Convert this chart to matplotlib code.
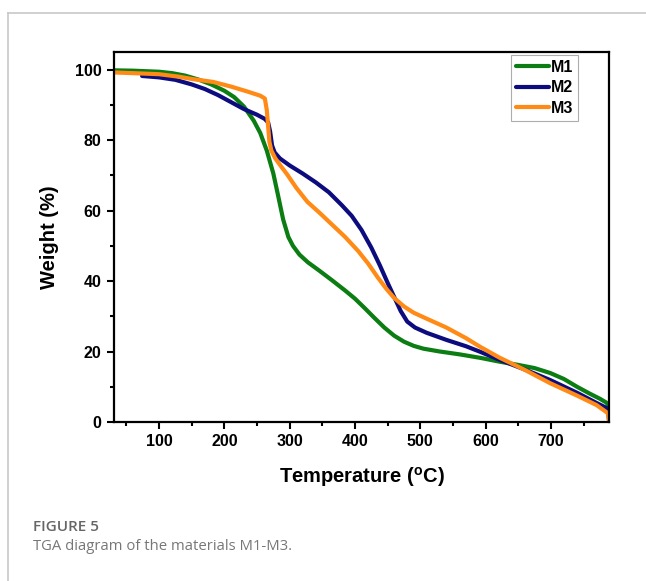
import numpy as np
import matplotlib.pyplot as plt
from matplotlib.ticker import MultipleLocator
from matplotlib.lines import Line2D

# TGA curves (temperature in C, weight in %)
t_m1 = [30, 60, 100, 120, 140, 160, 180, 200, 215, 230, 245, 255, 265, 275, 282,
        290, 298, 305, 315, 328, 345, 365, 385, 400, 415, 430, 445, 460, 475,
        490, 505, 530, 560, 592, 622, 650, 675, 699, 720, 740, 760, 775, 785,
        788, 789]
w_m1 = [99.8, 99.7, 99.4, 99.0, 98.3, 97.2, 95.8, 94.0, 92.2, 89.5, 85.5, 82.0,
        77.0, 70.5, 64.5, 57.5, 52.5, 50.0, 47.5, 45.3, 43.0, 40.2, 37.3, 35.0,
        32.3, 29.5, 26.8, 24.5, 22.8, 21.6, 20.8, 20.0, 19.2, 18.2, 17.1, 16.2,
        15.3, 13.9, 12.2, 10.0, 8.0, 6.6, 5.5, 4.8, 0.5]

t_m2 = [74, 100, 125, 150, 170, 190, 210, 230, 250, 262, 267, 270, 273, 277, 285,
        300, 320, 340, 360, 380, 395, 410, 425, 438, 450, 460, 470, 480, 492,
        510, 540, 570, 592, 622, 660, 699, 740, 770, 785, 788, 789]
w_m2 = [98.2, 97.8, 97.1, 95.8, 94.5, 92.8, 90.8, 88.8, 87.2, 86.0, 85.0, 82.5,
        78.5, 76.5, 74.8, 72.8, 70.5, 68.0, 65.2, 61.5, 58.5, 54.5, 49.5, 44.5,
        39.5, 35.5, 31.5, 28.5, 26.8, 25.3, 23.3, 21.5, 19.9, 17.6, 14.9, 11.9,
        8.3, 5.4, 4.0, 3.4, 0.5]

t_m3 = [30, 60, 100, 130, 152, 183, 210, 235, 255, 262, 265, 267, 269, 272, 278,
        287, 296, 310, 327, 345, 365, 385, 405, 420, 435, 448, 460, 475, 490,
        510, 540, 570, 592, 622, 660, 699, 740, 770, 785, 788, 789]
w_m3 = [99.2, 99.0, 98.7, 98.0, 97.3, 96.5, 95.2, 93.8, 92.6, 91.8, 88.5, 84.0,
        79.5, 77.0, 74.8, 72.5, 70.3, 66.5, 62.5, 59.5, 56.0, 52.5, 48.5, 45.0,
        41.0, 37.8, 35.2, 32.8, 31.0, 29.3, 26.8, 23.8, 21.3, 18.2, 14.8, 11.0,
        7.5, 4.8, 2.8, 2.3, 0.5]

names = ['M1', 'M2', 'M3']
colors = ['#0b7d12', '#0c0c7e', '#ff8a16']

plt.rcParams['font.family'] = ['Liberation Sans', 'DejaVu Sans']

fig = plt.figure(figsize=(6.46, 5.81), dpi=100)
ax = fig.add_axes([114/646, 1-422/581, (609-114)/646, (422-52)/581])

for t, w, c in [(t_m1, w_m1, colors[0]), (t_m2, w_m2, colors[1]), (t_m3, w_m3, colors[2])]:
    ax.plot(t, w, color=c, lw=3.0, solid_joinstyle='round', solid_capstyle='round')

ax.set_xlim(31, 789)
ax.set_ylim(0, 105)
ax.xaxis.set_major_locator(MultipleLocator(100))
ax.xaxis.set_minor_locator(MultipleLocator(50))
ax.yaxis.set_major_locator(MultipleLocator(20))
ax.yaxis.set_minor_locator(MultipleLocator(10))
ax.tick_params(which='major', direction='out', length=5, width=1.5, labelsize=11.5, pad=4)
ax.tick_params(which='minor', direction='out', length=3, width=1.5)
for lab in ax.get_xticklabels() + ax.get_yticklabels():
    lab.set_fontweight('bold')
for s in ax.spines.values():
    s.set_linewidth(1.6)

ax.set_xlabel('Temperature ($\\mathregular{^o}$C)', fontsize=14.5, fontweight='bold', labelpad=11)
ax.set_ylabel('Weight (%)', fontsize=14.5, fontweight='bold', labelpad=11)

handles = [Line2D([0], [0], color=c, lw=3.0, solid_capstyle='round') for c in colors]
leg = ax.legend(handles, names, loc='upper right', bbox_to_anchor=(0.937, 0.992),
                borderaxespad=0, frameon=True, fancybox=False, edgecolor='#999999',
                handlelength=2.1, handletextpad=0.1, borderpad=0.3, labelspacing=0.35,
                prop={'weight': 'bold', 'size': 11.5})
leg.get_frame().set_linewidth(0.8)

# page frame and caption
fig.add_artist(Line2D([8/646, 1], [1-13/581, 1-13/581], color='#c8c8c8', lw=1.2))
fig.add_artist(Line2D([8/646, 8/646], [0, 1-13/581], color='#c8c8c8', lw=1.2))
fig.text(33/646, 1-527/581, 'FIGURE 5', fontsize=11, color='#666666', fontweight='semibold',
         family=['Open Sans', 'DejaVu Sans'], va='center')
fig.text(33/646, 1-546/581, 'TGA diagram of the materials M1-M3.', fontsize=10.7, color='#777777',
         family=['Open Sans', 'DejaVu Sans'], va='center')

fig.savefig('out.png', dpi=100)
